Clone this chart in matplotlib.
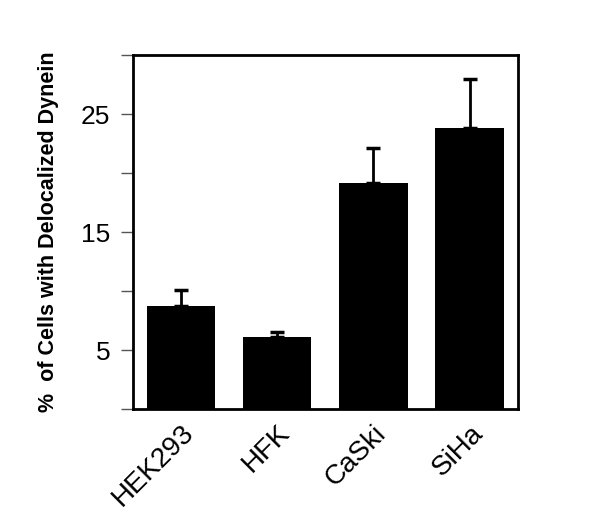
import matplotlib
matplotlib.use('Agg')
import matplotlib.pyplot as plt
import numpy as np

# Values
cell_lines = ['HEK293', 'HFK', 'CaSki', 'SiHa']
pct_delocalized = [8.7, 6.1, 19.2, 23.8]
err_upper = [1.4, 0.4, 2.9, 4.2]
y_ticks_major = [5, 15, 25]
y_ticks_minor = [0, 10, 20, 30]

plt.rcParams['font.family'] = ['Liberation Sans', 'DejaVu Sans']

fig = plt.figure(figsize=(6, 5.25), dpi=100)
ax = fig.add_axes([0.221, 0.221, 0.642, 0.674])

x = np.arange(len(cell_lines))
ax.bar(x, pct_delocalized, width=0.71, color='black', zorder=2)
ax.errorbar(x, pct_delocalized, yerr=[np.zeros(len(x)), err_upper],
            fmt='none', ecolor='black', elinewidth=2, capsize=5, capthick=2.5, zorder=1)

ax.set_xlim(-0.5, 3.5)
ax.set_ylim(0, 30)

ax.set_yticks(y_ticks_major)
ax.set_yticks(y_ticks_minor, minor=True)
ax.tick_params(axis='y', which='both', direction='out', length=9, width=1,
               color='#555555', labelsize=19, pad=7)
ax.tick_params(axis='y', which='minor', labelleft=False)

ax.set_xticks(x)
ax.set_xticklabels(cell_lines, rotation=45, ha='right', va='top',
                   rotation_mode='anchor', fontsize=20)
ax.tick_params(axis='x', length=0, pad=8)

for s in ax.spines.values():
    s.set_linewidth(2)
    s.set_color('black')

ax.set_ylabel('%  of Cells with Delocalized Dynein', fontsize=15.5,
              fontweight='bold', labelpad=16)

fig.savefig('out.png', dpi=100)
